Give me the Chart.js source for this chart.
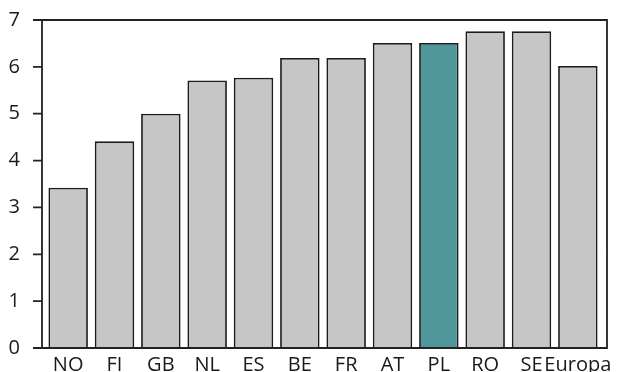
<!DOCTYPE html>
<html>
<head>
<meta charset="utf-8">
<script src="https://cdn.jsdelivr.net/npm/chart.js@4"></script>
<style>
html,body{margin:0;padding:0;background:#fff;}
#wrap{width:623px;height:372px;position:relative;}
</style>
</head>
<body>
<div id="wrap"><canvas id="c" width="623" height="372"></canvas></div>
<script>
const categories = ["NO","FI","GB","NL","ES","BE","FR","AT","PL","RO","SE","Europa"];
const values = [3.42, 4.41, 5.0, 5.71, 5.77, 6.19, 6.19, 6.51, 6.51, 6.76, 6.76, 6.02];
const highlight = "PL";
const yTicks = [0,1,2,3,4,5,6,7];

const gray = "#c6c6c6";
const teal = "#4f979b";
const lineCol = "#222222";

// frame: y-axis line with outward ticks, baseline, top and right borders
const frame = {
  id: "frame",
  afterDraw(chart) {
    const {ctx, chartArea: a, scales} = chart;
    const y = scales.y;
    const axisX = a.left - 3;
    const rightX = a.right + 6;
    const tickLen = 9;
    ctx.save();
    ctx.strokeStyle = lineCol;
    ctx.lineWidth = 1.8;
    ctx.beginPath();
    ctx.moveTo(axisX, y.getPixelForValue(0));
    ctx.lineTo(axisX, y.getPixelForValue(7));
    yTicks.forEach(v => {
      const py = y.getPixelForValue(v);
      ctx.moveTo(axisX - tickLen, py);
      ctx.lineTo(axisX, py);
    });
    const top = y.getPixelForValue(7), bot = y.getPixelForValue(0);
    ctx.moveTo(axisX, top);
    ctx.lineTo(rightX, top);
    ctx.lineTo(rightX, bot);
    ctx.lineTo(axisX, bot);
    ctx.stroke();
    ctx.restore();
  }
};

new Chart(document.getElementById("c"), {
  type: "bar",
  data: {
    labels: categories,
    datasets: [{
      data: values,
      backgroundColor: categories.map(c => c === highlight ? teal : gray),
      borderColor: "#1c1c1c",
      borderWidth: 1.8,
      barPercentage: 0.852,
      categoryPercentage: 1.0
    }]
  },
  options: {
    responsive: false,
    animation: false,
    devicePixelRatio: 1,
    layout: { padding: { top: 20, right: 22, left: 0, bottom: 0 } },
    plugins: { legend: { display: false }, tooltip: { enabled: false } },
    scales: {
      x: {
        grid: { display: false },
        border: { display: false },
        ticks: {
          color: "#1a1a1a",
          font: { family: "Open Sans", size: 20 },
          maxRotation: 0, minRotation: 0, autoSkip: false, padding: -3
        },
        afterFit(s) { s.height = 24; s.paddingLeft = 0; s.paddingRight = 0; }
      },
      y: {
        min: 0, max: 7,
        afterBuildTicks(s) { s.ticks = yTicks.map(v => ({value: v})); },
        grid: { display: false },
        border: { display: false },
        ticks: {
          color: "#1a1a1a",
          font: { family: "Open Sans", size: 20 },
          padding: 17
        },
        afterFit(s) { s.width = 45; s.paddingTop = 0; s.paddingBottom = 0; }
      }
    }
  },
  plugins: [frame]
});
</script>
</body>
</html>
